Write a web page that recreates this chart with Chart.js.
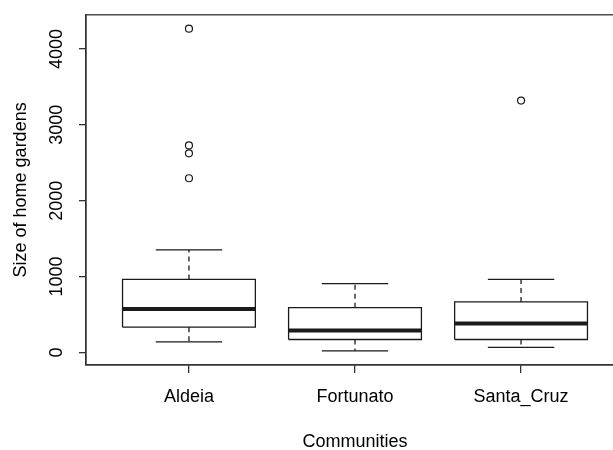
<!DOCTYPE html>
<html>
<head>
<meta charset="utf-8">
<script src="https://cdn.jsdelivr.net/npm/chart.js@4/dist/chart.umd.min.js"></script>
<style>
html,body{margin:0;padding:0;background:#fff;overflow:hidden;}
#wrap{width:640px;height:450px;}
</style>
</head>
<body>
<div id="wrap"><canvas id="c" width="640" height="450"></canvas></div>
<script>
// ---- data ----
const categories   = ['Aldeia', 'Fortunato', 'Santa_Cruz'];
const whiskerLow   = [140, 22, 66];
const quartile1    = [333, 171, 171];
const medians      = [574, 289, 381];
const quartile3    = [963, 591, 666];
const whiskerHigh  = [1353, 907, 963];
const outliers     = [[4267, 2729, 2624, 2296], [], [3320]];
const yTickValues  = [0, 1000, 2000, 3000, 4000];
const xTitle = 'Communities';
const yTitle = 'Size of home gardens';

// ---- build datasets ----
const BOX_HALF = 0.4, CAP_HALF = 0.2;
const gap = (x) => ({x: x, y: null});
const boxPts = [], medPts = [], whiskPts = [], capPts = [], outPts = [];
categories.forEach((c, k) => {
  const i = k + 1;
  boxPts.push({x:i-BOX_HALF,y:quartile1[k]},{x:i+BOX_HALF,y:quartile1[k]},{x:i+BOX_HALF,y:quartile3[k]},{x:i-BOX_HALF,y:quartile3[k]},{x:i-BOX_HALF,y:quartile1[k]}, gap(i+0.5));
  medPts.push({x:i-BOX_HALF,y:medians[k]},{x:i+BOX_HALF,y:medians[k]}, gap(i+0.5));
  whiskPts.push({x:i,y:quartile3[k]},{x:i,y:whiskerHigh[k]}, gap(i+0.01), {x:i,y:quartile1[k]},{x:i,y:whiskerLow[k]}, gap(i+0.5));
  capPts.push({x:i-CAP_HALF,y:whiskerHigh[k]},{x:i+CAP_HALF,y:whiskerHigh[k]}, gap(i), {x:i-CAP_HALF,y:whiskerLow[k]},{x:i+CAP_HALF,y:whiskerLow[k]}, gap(i+0.5));
  outliers[k].forEach(v => outPts.push({x:i, y:v}));
});

const INK = '#1a1a1a';
const lineDs = (data, extra) => Object.assign({
  type:'line', data, showLine:true, spanGaps:false, pointRadius:0, borderColor:INK,
  borderWidth:1.3, fill:false, tension:0, borderCapStyle:'butt'
}, extra);

Chart.defaults.font.family = '"Liberation Sans", Arial, sans-serif';
Chart.defaults.font.size = 18;
Chart.defaults.color = '#000';

const framePlugin = {
  id:'frame',
  afterDraw(chart){
    const {ctx, chartArea:a, scales} = chart;
    ctx.save();
    ctx.strokeStyle = '#333'; ctx.lineWidth = 1.3;
    ctx.strokeRect(a.left, a.top, a.right - a.left, a.bottom - a.top);
    // rotated y tick labels (R style)
    const ys = scales.y;
    ctx.fillStyle = '#000';
    ctx.font = '18px "Liberation Sans", Arial, sans-serif';
    ctx.textAlign = 'center'; ctx.textBaseline = 'alphabetic';
    yTickValues.forEach(v => {
      const py = ys.getPixelForValue(v);
      ctx.save();
      ctx.translate(ys.right - 24, py);
      ctx.rotate(-Math.PI/2);
      ctx.fillText(String(v), 0, 0);
      ctx.restore();
    });
    ctx.restore();
  }
};

new Chart(document.getElementById('c'), {
  type:'line',
  data:{ datasets:[
    lineDs(whiskPts, {borderDash:[5,4], borderWidth:1.3}),
    lineDs(capPts),
    lineDs(boxPts),
    lineDs(medPts, {borderWidth:4}),
    {type:'scatter', data:outPts, showLine:false, pointRadius:3.5, pointStyle:'circle',
     pointBorderColor:INK, pointBackgroundColor:'rgba(0,0,0,0)', pointBorderWidth:1.2}
  ]},
  options:{
    responsive:false, animation:false, devicePixelRatio:1,
    layout:{padding:{top:13, right:16, left:0, bottom:0}},
    plugins:{legend:{display:false}, tooltip:{enabled:false}},
    scales:{
      x:{
        type:'linear', min:0.38, max:3.62,
        afterBuildTicks(s){ s.ticks = categories.map((c,k)=>({value:k+1})); },
        afterFit(s){ s.height = 85; },
        ticks:{ callback:(v)=>categories[Math.round(v)-1] || '', padding:13, maxRotation:0, autoSkip:false, color:'#000' },
        grid:{ drawOnChartArea:false, drawTicks:true, tickLength:8, color:'#333', lineWidth:1.3 },
        border:{ display:true, color:'#333', width:1.3 },
        title:{ display:true, text:xTitle, color:'#000', font:{size:18}, padding:{top:0, bottom:-3} }
      },
      y:{
        type:'linear', min:-165, max:4450,
        afterBuildTicks(s){ s.ticks = yTickValues.map(v=>({value:v})); },
        afterFit(s){ s.width = 86; },
        ticks:{ color:'rgba(0,0,0,0)', padding:4 },
        grid:{ drawOnChartArea:false, drawTicks:true, tickLength:7, color:'#333', lineWidth:1.3 },
        border:{ display:true, color:'#333', width:1.3 },
        title:{ display:true, text:yTitle, color:'#000', font:{size:18}, padding:{top:10, bottom:0} }
      }
    }
  },
  plugins:[framePlugin]
});
</script>
</body>
</html>
